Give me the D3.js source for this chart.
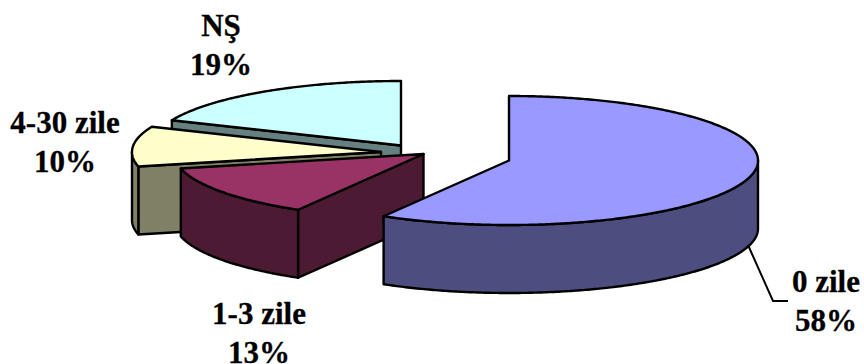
<!DOCTYPE html>
<html><head><meta charset="utf-8">
<script src="https://cdn.jsdelivr.net/npm/d3@7/dist/d3.min.js"></script>
<style>html,body{margin:0;background:#fff}svg{display:block}text{font-family:"Liberation Serif",serif;font-weight:bold;font-size:31px;fill:#000;stroke:#000;stroke-width:.3px;text-anchor:middle}</style>
</head><body>
<script>
const categories = ["0 zile", "1-3 zile", "4-30 zile", "NŞ"];
const values = [58.4, 13, 10, 18.6];
const percentLabels = ["58%", "13%", "10%", "19%"];
const topColors = ["#9999ff", "#993366", "#ffffcc", "#ccffff"];
const sideColors = ["#4d4d80", "#4d1a33", "#808066", "#668080"];

const W = 864, H = 364, rx = 249, ry = 64.5, depth = 68;
const centers = [[509,160.5],[423.5,154],[381,152],[401,145.5]];
const labelPos = [[826,292,331],[259,324,363],[65,133,172],[221,36,75]];

const svg = d3.select("body").append("svg").attr("width",W).attr("height",H);
const arcs = d3.pie().sort(null).value(d=>d)(values);
const line = d3.line();
const pt = (c,a,dy=0)=>[c[0]+rx*Math.sin(a), c[1]-ry*Math.cos(a)+dy];
const arcPts = (c,a0,a1,dy=0)=>{
  const n = Math.max(2,Math.ceil((a1-a0)/0.01));
  return d3.range(n+1).map(i=>pt(c,a0+(a1-a0)*i/n,dy));
};
const order = [3,2,1,0];
order.forEach(i=>{
  const a = arcs[i], c = centers[i], g = svg.append("g");
  const style = s=>s.attr("stroke","#000").attr("stroke-width",2.4).attr("stroke-linejoin","round");
  if (Math.sin(a.startAngle) < -1e-6){
    const e = pt(c,a.startAngle);
    style(g.append("path").attr("fill",sideColors[i])
      .attr("d", line([c,e,[e[0],e[1]+depth],[c[0],c[1]+depth]])+"Z"));
  }
  const lo = Math.max(a.startAngle,Math.PI/2), hi = Math.min(a.endAngle,3*Math.PI/2);
  if (hi>lo){
    const upper = arcPts(c,lo,hi), lower = arcPts(c,lo,hi,depth).reverse();
    style(g.append("path").attr("fill",sideColors[i])
      .attr("d", line(upper.concat(lower))+"Z"));
  }
  const rim = arcPts(c,a.startAngle,a.endAngle);
  style(g.append("path").attr("fill",topColors[i])
    .attr("d", line([c].concat(rim))+"Z"));
});

const leader = [[748,245],[773,301],[788,301]];
svg.append("path").attr("d",line(leader)).attr("fill","none").attr("stroke","#000").attr("stroke-width",2);

categories.forEach((name,i)=>{
  const [x,y1,y2] = labelPos[i];
  svg.append("text").attr("x",x).attr("y",y1).text(name);
  svg.append("text").attr("x",x).attr("y",y2).text(percentLabels[i]);
});
</script>
</body></html>
